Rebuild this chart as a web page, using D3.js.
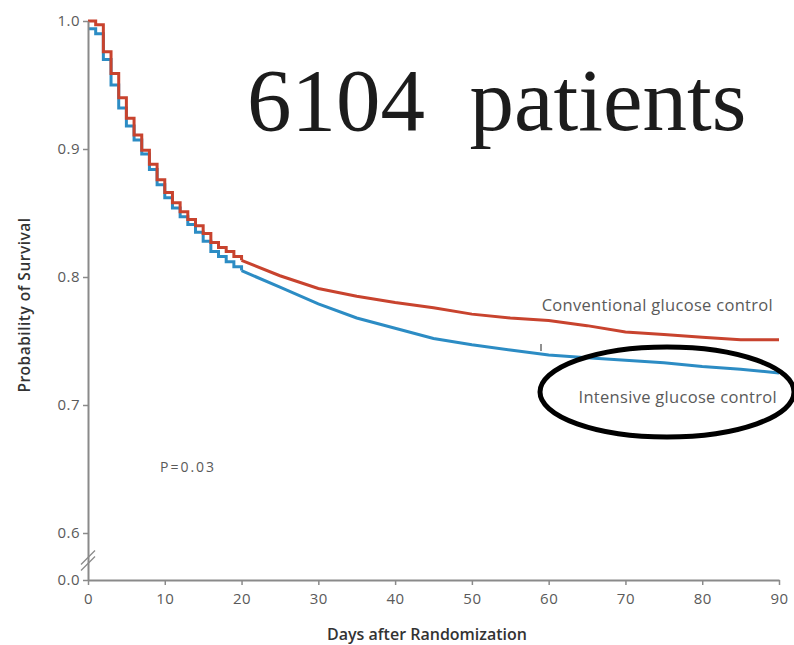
<!DOCTYPE html>
<html>
<head>
<meta charset="utf-8">
<script src="https://cdn.jsdelivr.net/npm/d3@7"></script>
<style>
  body { margin: 0; background: #fff; }
  svg { display: block; }
</style>
</head>
<body>
<div id="chart"></div>
<script>
// days after randomization (daily early on, then every 5 days)
var days = [0,1,2,3,4,5,6,7,8,9,10,11,12,13,14,15,16,17,18,19,20,
            25,30,35,40,45,50,55,60,65,70,75,80,85,90];
var conventional = [1.000,0.997,0.976,0.959,0.940,0.924,0.911,0.899,0.888,0.876,0.866,0.858,0.851,0.845,0.840,0.834,0.827,0.823,0.820,0.816,0.813,
                    0.801,0.791,0.785,0.780,0.776,0.771,0.768,0.766,0.762,0.757,0.755,0.753,0.751,0.751];
var intensive    = [0.994,0.990,0.970,0.950,0.932,0.918,0.907,0.896,0.884,0.872,0.862,0.854,0.847,0.841,0.835,0.828,0.820,0.816,0.812,0.808,0.805,
                    0.792,0.779,0.768,0.760,0.752,0.747,0.743,0.739,0.737,0.735,0.733,0.730,0.728,0.725];
var xTicks = [0,10,20,30,40,50,60,70,80,90];
var yTicks = [0.0,0.6,0.7,0.8,0.9,1.0];
var stepEnd = 20;

var width = 794;
var height = 645;

var svg = d3.select("#chart")
    .append("svg")
    .attr("width", width)
    .attr("height", height);

var x = d3.scaleLinear().domain([0, 90]).range([88, 779]);
// broken axis: 0.0 sits just below 0.6
var y = d3.scaleLinear().domain([0, 0.6, 1.0]).range([580, 533, 21]);

var axisColor = "#8a8a8a";
var labelColor = "#5a5a5a";
var font = "'Open Sans', sans-serif";

// series curves
function seriesData(vals){
    return days.map(function(d, i){ return {day: d, v: vals[i]}; });
}
var stepLine = d3.line()
    .x(function(d){ return x(d.day); })
    .y(function(d){ return y(d.v); })
    .curve(d3.curveStepAfter);
var smoothLine = d3.line()
    .x(function(d){ return x(d.day); })
    .y(function(d){ return y(d.v); });

var series = [
    {name: "intensive", vals: intensive, color: "#2c8cc4"},
    {name: "conventional", vals: conventional, color: "#c8432e"}
];
series.forEach(function(s){
    var pts = seriesData(s.vals);
    var early = pts.filter(function(d){ return d.day <= stepEnd; });
    var late = pts.filter(function(d){ return d.day >= stepEnd; });
    svg.append("path")
        .attr("d", stepLine(early))
        .attr("fill", "none")
        .attr("stroke", s.color)
        .attr("stroke-width", 3);
    svg.append("path")
        .attr("d", smoothLine(late))
        .attr("fill", "none")
        .attr("stroke", s.color)
        .attr("stroke-width", 3);
});

// axes
var xAxis = svg.append("g")
    .attr("transform", "translate(0," + y(0) + ")")
    .call(d3.axisBottom(x).tickValues(xTicks).tickSize(5).tickPadding(8).tickSizeOuter(0));
var yAxis = svg.append("g")
    .attr("transform", "translate(" + x(0) + ",0)")
    .call(d3.axisLeft(y).tickValues(yTicks).tickFormat(d3.format(".1f")).tickSize(5).tickPadding(3).tickSizeOuter(0));

[xAxis, yAxis].forEach(function(g){
    g.select(".domain").attr("stroke", axisColor).attr("stroke-width", 2);
    g.selectAll(".tick line").attr("stroke", axisColor).attr("stroke-width", 1.5);
    g.selectAll(".tick text")
        .attr("fill", labelColor)
        .style("font-family", font)
        .style("font-size", "15px")
        .style("letter-spacing", "0.5px");
});

// axis break marks
var breakY = (y(0) + y(0.6)) / 2 + 4;
[-3, 3].forEach(function(off){
    svg.append("line")
        .attr("x1", x(0) - 7).attr("y1", breakY + off + 7)
        .attr("x2", x(0) + 7).attr("y2", breakY + off - 7)
        .attr("stroke", axisColor)
        .attr("stroke-width", 1.2);
});

// axis titles
svg.append("text")
    .attr("x", 427).attr("y", 640)
    .attr("text-anchor", "middle")
    .attr("fill", "#333")
    .style("font-family", font)
    .style("font-size", "16px")
    .style("font-weight", "600")
    .text("Days after Randomization");

svg.append("text")
    .attr("transform", "translate(30,305) rotate(-90)")
    .attr("text-anchor", "middle")
    .attr("fill", "#333")
    .style("font-family", font)
    .style("font-size", "15.5px")
    .style("font-weight", "600")
    .style("letter-spacing", "0.5px")
    .text("Probability of Survival");

// series labels
svg.append("text")
    .attr("x", 773).attr("y", 311)
    .attr("text-anchor", "end")
    .attr("fill", labelColor)
    .style("font-family", font)
    .style("font-size", "16.5px")
    .style("letter-spacing", "0.3px")
    .text("Conventional glucose control");

svg.append("text")
    .attr("x", 777).attr("y", 403)
    .attr("text-anchor", "end")
    .attr("fill", labelColor)
    .style("font-family", font)
    .style("font-size", "16.5px")
    .style("letter-spacing", "0.3px")
    .text("Intensive glucose control");

svg.append("text")
    .attr("x", 160).attr("y", 472)
    .attr("fill", labelColor)
    .style("font-family", font)
    .style("font-size", "14px")
    .style("letter-spacing", "2px")
    .text("P=0.03");

// censor tick
svg.append("line")
    .attr("x1", 541).attr("y1", 344)
    .attr("x2", 541).attr("y2", 351)
    .attr("stroke", "#222")
    .attr("stroke-width", 1);

// big annotation
svg.append("text")
    .attr("x", 247).attr("y", 130)
    .attr("fill", "#1c1c1c")
    .attr("xml:space", "preserve")
    .style("font-family", "'Liberation Serif', 'DejaVu Serif', serif")
    .style("font-size", "89px")
    .text("6104  patients");

// hand-drawn ellipse
svg.append("ellipse")
    .attr("cx", 667).attr("cy", 392)
    .attr("rx", 127).attr("ry", 45)
    .attr("fill", "none")
    .attr("stroke", "#000")
    .attr("stroke-width", 5);
</script>
</body>
</html>
